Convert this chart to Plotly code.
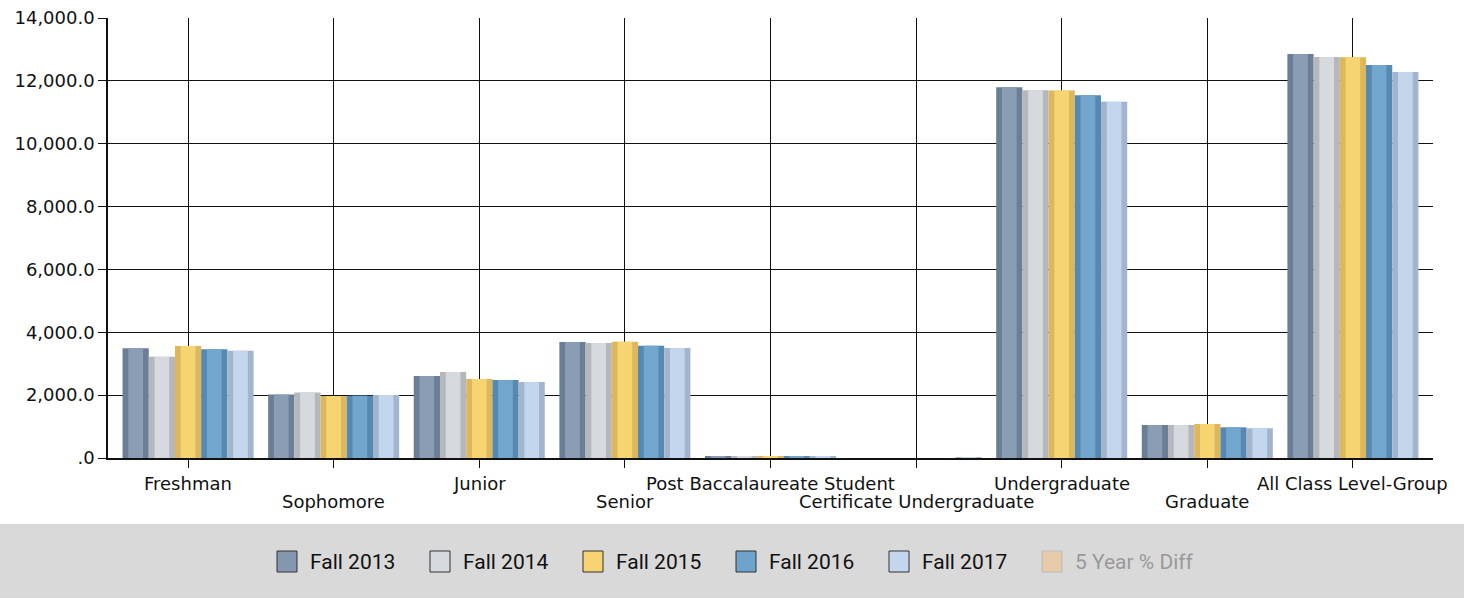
import plotly.graph_objects as go

categories = ["Freshman", "Sophomore", "Junior", "Senior", "Post Baccalaureate Student",
              "Certificate Undergraduate", "Undergraduate", "Graduate", "All Class Level-Group"]
series_names = ["Fall 2013", "Fall 2014", "Fall 2015", "Fall 2016", "Fall 2017"]
fall_2013 = [3490, 2017, 2609, 3691, 45, 0, 11795, 1050, 12855]
fall_2014 = [3224, 2081, 2736, 3659, 40, 0, 11700, 1050, 12759]
fall_2015 = [3564, 1973, 2514, 3695, 55, 0, 11695, 1082, 12755]
fall_2016 = [3459, 1982, 2482, 3573, 50, 0, 11540, 976, 12505]
fall_2017 = [3415, 2005, 2418, 3500, 40, 25, 11338, 944, 12282]
series_values = [fall_2013, fall_2014, fall_2015, fall_2016, fall_2017]
extra_legend = "5 Year % Diff"
y_tickvals = [0, 2000, 4000, 6000, 8000, 10000, 12000, 14000]
y_ticktext = [".0", "2,000.0", "4,000.0", "6,000.0", "8,000.0", "10,000.0", "12,000.0", "14,000.0"]

edge_colors = ["#6a7e96", "#b4b7bc", "#dcb75c", "#5689b1", "#a3b5cc"]
body_colors = ["#8a9db4", "#d6d9de", "#f6d472", "#72a6cd", "#c4d6ed"]
legend_fill = ["#8497ae", "#d6d9de", "#f6d472", "#6fa3cb", "#c4d6ed"]

FONT = "DejaVu Sans, Verdana, sans-serif"
bar_w = 0.18
fig = go.Figure()
for i, (name, vals) in enumerate(zip(series_names, series_values)):
    off = -0.45 + i * bar_w
    fig.add_trace(go.Bar(x=categories, y=vals, name=name, offset=off, width=bar_w,
                         marker=dict(color=edge_colors[i], line=dict(width=0)),
                         showlegend=False))
    fig.add_trace(go.Bar(x=categories, y=vals, name=name, offset=off + bar_w * 0.22,
                         width=bar_w * 0.56,
                         marker=dict(color=body_colors[i], line=dict(width=0)),
                         showlegend=False, hoverinfo="skip"))

fig.update_layout(
    width=1464, height=598,
    margin=dict(l=108, r=31, t=18, b=140, autoexpand=False),
    paper_bgcolor="white", plot_bgcolor="white",
    barmode="overlay",
    showlegend=False,
    font=dict(family=FONT, size=18, color="#111"),
    xaxis=dict(type="category", range=[-0.55, 8.55], showgrid=True, gridcolor="#111",
               gridwidth=1, showline=True, linecolor="#111", linewidth=1.5,
               ticks="outside", ticklen=8, tickcolor="#111", showticklabels=False,
               automargin=False),
    yaxis=dict(range=[0, 14000], tickvals=y_tickvals, ticktext=y_ticktext,
               showgrid=True, gridcolor="#111", gridwidth=1, showline=True,
               linecolor="#111", linewidth=1.5, ticks="outside", ticklen=8,
               tickcolor="#111", zeroline=False, automargin=False,
               tickfont=dict(family=FONT, size=18, color="#111")),
)

# staggered category labels
for i, c in enumerate(categories):
    fig.add_annotation(x=c, xref="x", y=0, yref="paper", text=c, showarrow=False,
                       yanchor="top", yshift=-13 - (18 if i % 2 else 0),
                       font=dict(family=FONT, size=18, color="#111"))

def px_x(p):
    return (p - 108) / 1325
def px_y(p):
    return (458 - p) / 440

# legend band
fig.add_shape(type="rect", xref="paper", yref="paper",
              x0=px_x(0), x1=px_x(1464), y0=px_y(600), y1=px_y(524),
              fillcolor="#d9d9d9", line=dict(width=0), layer="below")

legend_labels = series_names + [extra_legend]
sq_left = [277, 430, 583, 736, 889, 1042]
fills = legend_fill + ["#e8cba9"]
borders = ["#333"] * 5 + ["#bbb"]
txt_colors = ["#111"] * 5 + ["#999"]
for i, lab in enumerate(legend_labels):
    x0 = sq_left[i]
    fig.add_shape(type="rect", xref="paper", yref="paper", x0=px_x(x0), x1=px_x(x0 + 20),
                  y0=px_y(572), y1=px_y(551), fillcolor=fills[i],
                  line=dict(color=borders[i], width=1))
    fig.add_annotation(x=px_x(x0 + 31), xref="paper", y=px_y(562), yref="paper",
                       text=lab, showarrow=False, xanchor="left", yanchor="middle",
                       font=dict(family="Roboto, sans-serif", size=21, color=txt_colors[i]))

fig.write_html("out.html", config={"displayModeBar": False},
               post_script="document.body.style.margin='0';document.body.style.overflow='hidden';")
